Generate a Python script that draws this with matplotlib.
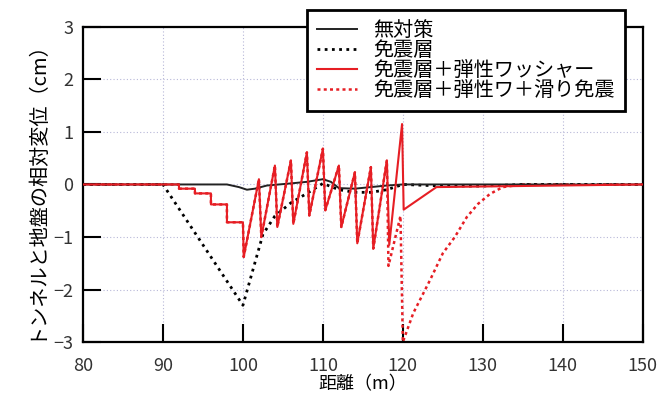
import matplotlib
matplotlib.use("Agg")
import matplotlib.pyplot as plt

plt.rcParams['font.family'] = ['Noto Sans CJK JP', 'DejaVu Sans']

# 無対策
x_none = [80, 98, 99.5, 100.5, 101.5, 103, 106, 108, 110, 111, 112, 114, 116, 118, 120, 125, 130, 150]
y_none = [0, 0, -0.05, -0.1, -0.08, -0.02, 0.02, 0.05, 0.1, 0.05, -0.07, -0.08, -0.05, -0.02, 0, 0, 0, 0]

# 免震層
x_iso = [80, 90, 100, 102.5, 104, 106, 108, 110, 112, 114, 116, 118, 120, 125, 130, 135, 150]
y_iso = [0, 0, -2.3, -0.95, -0.6, -0.35, -0.17, 0.02, -0.1, -0.15, -0.15, -0.1, 0, -0.03, -0.03, 0, 0]

# 免震層＋弾性ワッシャー
x_wash = [80, 92, 92, 94, 94, 96, 96, 98, 98, 100, 100.1, 102, 102.3, 104, 104.3, 106, 106.3,
          108, 108.3, 110, 110.3, 112, 112.3, 114, 114.3, 116, 116.3, 118, 118.3, 119.9, 120.1,
          124.2, 150]
y_wash = [0, 0, -0.08, -0.08, -0.17, -0.17, -0.38, -0.38, -0.72, -0.72, -1.38, 0.1, -1.0, 0.36,
          -0.81, 0.46, -0.75, 0.61, -0.59, 0.68, -0.49, 0.36, -0.81, 0.23, -1.12, 0.33, -1.22,
          0.46, -1.15, 1.15, -0.48, -0.05, 0]

# 免震層＋弾性ワ＋滑り免震
x_slip = [80, 92, 92, 94, 94, 96, 96, 98, 98, 100, 100.1, 102, 102.3, 104, 104.3, 106, 106.3,
          108, 108.3, 110, 110.3, 112, 112.3, 114, 114.3, 116, 116.3, 118, 118.2, 119.7, 120,
          121.3, 123.4, 125, 126.5, 128, 129.4, 130.9, 132.5, 135, 150]
y_slip = [0, 0, -0.08, -0.08, -0.17, -0.17, -0.38, -0.38, -0.72, -0.72, -1.38, 0.1, -1.0, 0.36,
          -0.81, 0.46, -0.75, 0.61, -0.59, 0.68, -0.49, 0.36, -0.81, 0.23, -1.12, 0.33, -1.22,
          0.46, -1.55, -0.6, -3.0, -2.45, -1.82, -1.31, -1.0, -0.62, -0.37, -0.18, -0.05, 0, 0]

labels = ['無対策', '免震層', '免震層＋弾性ワッシャー', '免震層＋弾性ワ＋滑り免震']
xticks = [80, 90, 100, 110, 120, 130, 140, 150]
yticks = [-3, -2, -1, 0, 1, 2, 3]
yticklabels = ['\u22123', '\u22122', '\u22121', '0', '1', '2', '3']

red = '#e61e24'

fig = plt.figure(figsize=(6.64, 4.01), dpi=100)
ax = fig.add_axes([0.125, 0.147, 0.843, 0.786])

l4, = ax.plot(x_slip, y_slip, color=red, lw=1.8, ls=(0, (1.2, 1.3)), zorder=2)
l2, = ax.plot(x_iso, y_iso, color='black', lw=2.0, ls=(0, (1, 1.6)), zorder=3)
l1, = ax.plot(x_none, y_none, color='#222222', lw=1.4, zorder=4)
l3, = ax.plot(x_wash, y_wash, color=red, lw=1.5, zorder=5)

ax.set_xlim(80, 150)
ax.set_ylim(-3, 3)
ax.set_xticks(xticks)
ax.set_yticks(yticks)
ax.set_yticklabels(yticklabels)
ax.grid(True, color='#b8b8d8', ls=(0, (1, 2)), lw=0.8)
ax.tick_params(direction='in', length=13, width=1.5, labelsize=13, colors='black',
               labelcolor='#333333', top=False, right=False)
ax.tick_params(axis='x', pad=11)
ax.tick_params(axis='y', pad=7)
for s in ax.spines.values():
    s.set_linewidth(1.6)

ax.set_xlabel('距離（m）', fontsize=13, labelpad=0)
ax.set_ylabel('トンネルと地盤の相対変位（cm）', fontsize=14.5, labelpad=6)

leg = ax.legend([l1, l2, l3, l4], labels, loc='upper right', bbox_to_anchor=(0.968, 1.053),
                fontsize=14.5, frameon=True, fancybox=False, framealpha=1, edgecolor='black',
                handlelength=2.0, handletextpad=0.8, borderpad=0.5, labelspacing=-0.05,
                borderaxespad=0)
leg.get_frame().set_linewidth(2.0)
leg.set_zorder(10)

fig.savefig('out.png', dpi=100)
